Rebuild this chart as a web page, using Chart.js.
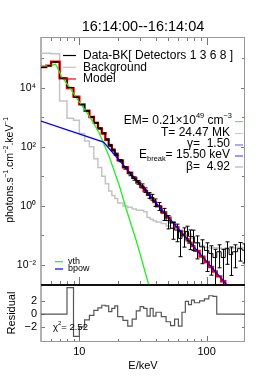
<!DOCTYPE html>
<html><head><meta charset="utf-8">
<script src="https://cdn.jsdelivr.net/npm/chart.js@4.4.1/dist/chart.umd.min.js"></script>
<style>
html,body{margin:0;padding:0;background:#fff;}
#wrap{position:relative;width:273px;height:381px;overflow:hidden;background:#fff;}
canvas{position:absolute;left:0;}
#c1{top:0;} #c2{top:280px;}
</style></head><body>
<div id="wrap"><canvas id="c1" width="273" height="290"></canvas><canvas id="c2" width="273" height="101"></canvas></div>
<script>
// ---- data ----
const edges = [5,5.5,6,7,8,9,10,11,12,13,14,15,16,17,18,19,20,22,24,26,28,30,32,34,36,38,40,44,48,52,56,60,64,68,72,76,80,88,96,104,112,120,130,140,150,160,175,190,200];
const dataBK = [49000,55600,75000,21100,10200,4790,2690,1640,1020,653,422,288,178,113,78.5,56.2,34.3,19.5,12.0,8.5,6.3,4.8,3.47,2.31,2.0,1.34,1.0,0.571,0.316,0.174,0.151,0.079,0.110,0.135,0.093,0.091,0.056,0.041,0.031,0.0245,0.0178,0.028,0.0178,0.0355,0.0224,0.028,0.0355,0.0316];
const dataErr = [300,320,380,200,100,70,50,40,30,22,17,13,10,8,6,5,3.0,2.0,1.5,1.1,0.9,0.75,0.6,0.5,0.45,0.38,0.3,0.25,0.15,0.1,0.09,0.06,0.07,0.07,0.06,0.06,0.04,0.03,0.025,0.02,0.016,0.02,0.016,0.025,0.018,0.02,0.022,0.02];
const background = [148000,148000,141000,3550,933,794,282,158,100,39.8,20.0,10.0,5.6,3.16,2.24,1.78,1.26,1.0,0.89,0.79,0.71,0.71,0.63,0.40,0.355,0.316,0.282,0.251,0.209,0.178,0.166,0.151,0.141,0.132,0.112,0.079,0.056,0.0447,0.0398,0.0372,0.038,0.0372,0.0355,0.038,0.0355,0.0372,0.0398,0.038];
const model = [50100,56200,75900,20900,9770,5010,2750,1660,1020,646,417,282,174,112,77.6,55.0,34.7,20.4,13.2,8.91,6.17,4.37,3.20,2.38,1.81,1.39,0.96,0.608,0.401,0.272,0.191,0.137,0.100,0.0745,0.0564,0.0434,0.0299,0.0191,0.0126,0.0085,0.0060,0.0041,0.0028,0.00195,0.00138,0.00091,0.00056,0.00042];
const residual = [0,0,0,0,4.2,-3.5,-2.0,-0.9,-0.2,0.6,1.0,1.4,1.3,0.4,0.9,1.3,-0.4,-1.0,-1.9,-0.8,0.5,1.2,0.9,-0.3,0.9,-0.3,0.3,-0.4,-1.2,-1.8,-0.8,-1.9,0.3,2.0,1.5,2.2,1.8,2.1,2.4,2.9,2.8,0,0,0,0,0,0,0];
const vthE = [5,5.5,5.9,6.2,6.5,6.75,7.2,8.35,10,12,14.3,17.2,20.5,23.7,28.4,35.2,40];
const vthF = [55000,55500,56500,60000,63000,47000,25000,10500,3300,1100,300,45,5.2,0.63,0.054,0.002,0.0003];
const bpowE = [5,15.5,200];
const bpowF = [743,145,0.00041];
const yTickVals = [1e-2,1,1e2,1e4];
const yTickLabels = ['10\u207B\u00B2','10\u2070','10\u00B2','10\u2074'];
const xTickVals = [10,100];
const xTickLabels = ['10','100'];
const resTickVals = [-2,0,2];
const resTickLabels = ['\u22122','0','2'];

// ---- helpers ----
const FAM = '"Liberation Sans", Arial, Helvetica, sans-serif';
function stepPts(e, v){ const p = v.map((val,i)=>({x:e[i], y:val})); p.push({x:e[e.length-1], y:v[v.length-1]}); return p; }
function xy(a,b){ return a.map((v,i)=>({x:v,y:b[i]})); }
function rich(ctx, segs, x, y, align, size, color){
  let w = 0;
  const parts = segs.map(s=>{ const small = s.sup||s.sub; const sz = small? size*0.62 : size; ctx.font = sz+'px '+FAM; const mw = ctx.measureText(s.t).width; w += mw; return {t:s.t, sz, mw, dy: s.sup? -size*0.38 : (s.sub? size*0.3 : 0)}; });
  let cx = align==='right' ? x-w : (align==='center' ? x-w/2 : x);
  ctx.fillStyle = color||'#000'; ctx.textBaseline='middle'; ctx.textAlign='left';
  parts.forEach(p=>{ ctx.font = p.sz+'px '+FAM; ctx.fillText(p.t, cx, y+p.dy); cx += p.mw; });
}
function seg(ctx,x1,y1,x2,y2){ ctx.beginPath(); ctx.moveTo(x1,y1); ctx.lineTo(x2,y2); ctx.stroke(); }
function zeroPad(s){ s.paddingTop=0; s.paddingBottom=0; s.paddingLeft=0; s.paddingRight=0; }

const framePlugin = {
  id:'frameMain',
  beforeDatasetsDraw(chart){
    const {ctx, chartArea:a, scales:{x,y}} = chart;
    ctx.save(); ctx.strokeStyle='#777'; ctx.lineWidth=1;
    [6,7,8,9,10,20,30,40,50,60,70,80,90,100].forEach(v=>{
      const px = Math.round(x.getPixelForValue(v))+0.5; const L = (v===10||v===100)?8:4;
      seg(ctx,px,a.top,px,a.top+L); seg(ctx,px,a.bottom,px,a.bottom-L);
    });
    for(let k=-2;k<=5;k++){
      const py = Math.round(y.getPixelForValue(Math.pow(10,k)))+0.5; const L = (k%2===0)?4:3;
      seg(ctx,a.left,py,a.left+L,py); seg(ctx,a.right,py,a.right-L,py);
    }
    ctx.strokeStyle='#999'; ctx.lineWidth=1.5;
    seg(ctx,a.left,a.top,a.left,a.bottom);
    ctx.lineWidth=1;
    seg(ctx,a.left,a.top+0.5,a.right,a.top+0.5);
    seg(ctx,a.right-0.5,a.top,a.right-0.5,a.bottom);
    ctx.strokeStyle='#000'; ctx.lineWidth=1.5;
    seg(ctx,a.left,a.bottom,a.right,a.bottom);
    ctx.restore();
  },
  afterDatasetsDraw(chart){
    const {ctx, chartArea:a, scales:{x,y}} = chart;
    ctx.save(); ctx.beginPath(); ctx.rect(a.left,a.top,a.right-a.left,a.bottom-a.top); ctx.clip();
    ctx.strokeStyle='#000'; ctx.lineWidth=1;
    for(let i=0;i<dataBK.length;i++){
      const xc = Math.sqrt(edges[i]*edges[i+1]);
      const px = Math.round(x.getPixelForValue(xc))+0.5;
      const hi = y.getPixelForValue(dataBK[i]+dataErr[i]);
      const lo = dataBK[i]-dataErr[i] > 0 ? y.getPixelForValue(dataBK[i]-dataErr[i]) : a.bottom+5;
      seg(ctx,px,hi,px,lo);
      seg(ctx,px-2,hi,px+2,hi); seg(ctx,px-2,lo,px+2,lo);
    }
    ctx.restore();
  },
  afterDraw(chart){
    const ctx = chart.ctx; ctx.save();
    rich(ctx,[{t:'16:14:00--16:14:04'}],143,27,'center',14.5);
    // top legend
    ctx.lineWidth=1.2;
    ctx.strokeStyle='#000'; seg(ctx,63,55.5,76,55.5);
    ctx.strokeStyle='#c4c4c4'; seg(ctx,63,67.3,76,67.3);
    ctx.strokeStyle='#ff0000'; seg(ctx,63,79,76,79);
    rich(ctx,[{t:'Data-BK[ Detectors 1 3 6 8 ]'}],83,55.5,'left',12);
    rich(ctx,[{t:'Background'}],83,67.3,'left',12);
    rich(ctx,[{t:'Model'}],83,79,'left',12);
    // fit parameters
    rich(ctx,[{t:'EM= 0.21\u00D710'},{t:'49',sup:true},{t:' cm'},{t:'\u22123',sup:true}],232,121,'right',12);
    rich(ctx,[{t:'T= 24.47 MK'}],230,132.3,'right',12);
    rich(ctx,[{t:'\u03B3=  1.50'}],230,143.6,'right',12);
    rich(ctx,[{t:'E'},{t:'break',sub:true},{t:'= 15.50 keV'}],230,155,'right',12);
    rich(ctx,[{t:'\u03B2=  4.92'}],230,166.3,'right',12);
    const pc = ['#44dd44','#99ee99','#5555ff','#3333ff','#9999ff'];
    [121.7,133.5,145,156,167].forEach((yy,i)=>{ ctx.strokeStyle=pc[i]; ctx.lineWidth=1; seg(ctx,235,yy,243,yy); });
    // bottom legend
    ctx.lineWidth=1.2;
    ctx.strokeStyle='#22ee22'; seg(ctx,55,261.7,63,261.7);
    ctx.strokeStyle='#0000ff'; seg(ctx,55,269,63,269);
    rich(ctx,[{t:'vth'}],68,261.7,'left',9);
    rich(ctx,[{t:'bpow'}],68,269,'left',9);
    // y title
    ctx.save(); ctx.translate(10,170); ctx.rotate(-Math.PI/2);
    rich(ctx,[{t:'photons.s'},{t:'\u22121',sup:true},{t:'.cm'},{t:'\u22122',sup:true},{t:'.keV'},{t:'\u22121',sup:true}],0,0,'center',10.5);
    ctx.restore();
    ctx.restore();
  }
};

const resPlugin = {
  id:'frameRes',
  beforeDatasetsDraw(chart){
    const {ctx, chartArea:a, scales:{x,y}} = chart;
    ctx.save(); ctx.strokeStyle='#777'; ctx.lineWidth=1;
    [6,7,8,9,10,20,30,40,50,60,70,80,90,100].forEach(v=>{
      const px = Math.round(x.getPixelForValue(v))+0.5; const L = (v===10||v===100)?6:3;
      seg(ctx,px,a.bottom,px,a.bottom-L);
    });
    resTickVals.forEach(v=>{ const py=Math.round(y.getPixelForValue(v))+0.5; seg(ctx,a.left,py,a.left+4,py); seg(ctx,a.right,py,a.right-3,py); });
    ctx.strokeStyle='#999'; ctx.lineWidth=1.5;
    seg(ctx,a.left,a.top,a.left,a.bottom);
    ctx.lineWidth=1;
    seg(ctx,a.left,a.bottom-0.5,a.right,a.bottom-0.5);
    seg(ctx,a.right-0.5,a.top,a.right-0.5,a.bottom);
    ctx.strokeStyle='#000'; ctx.lineWidth=1.5;
    seg(ctx,a.left,a.top,a.right,a.top);
    ctx.restore();
  },
  afterDraw(chart){
    const ctx = chart.ctx; ctx.save();
    ctx.save(); ctx.translate(12,33); ctx.rotate(-Math.PI/2);
    rich(ctx,[{t:'Residual'}],0,0,'center',11); ctx.restore();
    rich(ctx,[{t:'\u03C7'},{t:'2',sup:true},{t:'= 2.52'}],53,47,'left',9.5);
    rich(ctx,[{t:'E/keV'}],143,86,'center',11);
    ctx.restore();
  }
};

const common = {responsive:false, animation:false, devicePixelRatio:1, events:[],
  plugins:{legend:{display:false}, tooltip:{enabled:false}, title:{display:false}}};

new Chart(document.getElementById('c1'), {
  type:'line',
  data:{datasets:[
    {data:stepPts(edges,background), stepped:true, borderColor:'#c4c4c4', borderWidth:1.5, pointRadius:0, order:5},
    {data:stepPts(edges,model), stepped:true, borderColor:'#ff0000', borderWidth:2.4, pointRadius:0, order:4},
    {data:stepPts(edges,dataBK), stepped:true, borderColor:'#000000', borderWidth:1, pointRadius:0, order:3},
    {data:xy(vthE,vthF), borderColor:'#22ee22', borderWidth:1.3, pointRadius:0, tension:0, order:2},
    {data:xy(bpowE,bpowF), borderColor:'#0000ff', borderWidth:1.3, pointRadius:0, tension:0, order:1}
  ]},
  options:Object.assign({}, common, {
    layout:{padding:{top:37,right:28,bottom:5,left:0}},
    scales:{
      x:{type:'logarithmic', min:5, max:200, grid:{display:false,drawTicks:false}, border:{display:false}, ticks:{display:false},
         afterFit(s){ s.height=0; zeroPad(s); }},
      y:{type:'logarithmic', min:Math.pow(10,-2.68), max:Math.pow(10,5.72), grid:{display:false,drawTicks:false}, border:{display:false},
         ticks:{color:'#000', padding:5, font:{family:FAM, size:10.5}, callback:(v)=>{ const i=yTickVals.findIndex(t=>Math.abs(Math.log10(t)-Math.log10(v))<1e-6); return i>=0?yTickLabels[i]:''; }},
         afterBuildTicks(s){ s.ticks = yTickVals.map(v=>({value:v})); },
         afterFit(s){ s.width=41; zeroPad(s); }}
    }
  }),
  plugins:[framePlugin]
});

new Chart(document.getElementById('c2'), {
  type:'line',
  data:{datasets:[
    {data:stepPts(edges,residual), stepped:true, borderColor:'#555555', borderWidth:1.2, pointRadius:0}
  ]},
  options:Object.assign({}, common, {
    layout:{padding:{top:5,right:28,bottom:0,left:0}},
    scales:{
      x:{type:'logarithmic', min:5, max:200, grid:{display:false,drawTicks:false}, border:{display:false},
         ticks:{color:'#000', padding:3, maxRotation:0, autoSkip:false, font:{family:FAM, size:11}, callback:(v)=>{ const i=xTickVals.indexOf(v); return i>=0?xTickLabels[i]:''; }},
         afterBuildTicks(s){ s.ticks = xTickVals.map(v=>({value:v})); },
         afterFit(s){ s.height=39; zeroPad(s); }},
      y:{type:'linear', min:-4.4, max:4.6, grid:{display:false,drawTicks:false}, border:{display:false},
         ticks:{color:'#000', padding:4, font:{family:FAM, size:11}, callback:(v)=>{ const i=resTickVals.indexOf(v); return i>=0?resTickLabels[i]:''; }},
         afterBuildTicks(s){ s.ticks = resTickVals.map(v=>({value:v})); },
         afterFit(s){ s.width=41; zeroPad(s); }}
    }
  }),
  plugins:[resPlugin]
});
</script></body></html>
